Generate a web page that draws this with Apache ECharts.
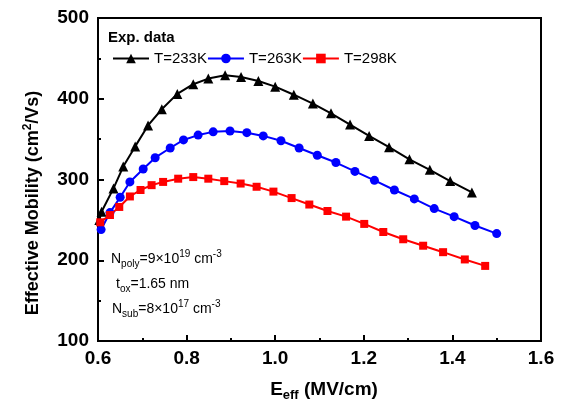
<!DOCTYPE html>
<html>
<head>
<meta charset="utf-8">
<script src="https://cdn.jsdelivr.net/npm/echarts@6/dist/echarts.min.js"></script>
<style>
  html, body { margin: 0; padding: 0; background: #fff; }
  #chart { width: 570px; height: 405px; }
</style>
</head>
<body>
<div id="chart"></div>
<script>
'use strict';

// 数据
const seriesNames = ['T=233K', 'T=263K', 'T=298K'];

const eff233 = [0.603, 0.608, 0.635, 0.657, 0.684, 0.713, 0.744, 0.779, 0.815, 0.849, 0.887, 0.923, 0.962,
                1.000, 1.042, 1.085, 1.126, 1.169, 1.212, 1.257, 1.303, 1.349, 1.395, 1.444];
const mob233 = [250, 260, 289, 316, 341, 367, 387, 406, 418, 425, 429, 427, 422,
                415, 405, 394, 382, 368, 354, 340, 325, 312, 298, 284];

const eff263 = [0.607, 0.627, 0.650, 0.672, 0.702, 0.729, 0.763, 0.793, 0.826, 0.860, 0.898, 0.936, 0.973,
                1.013, 1.054, 1.095, 1.137, 1.180, 1.224, 1.269, 1.314, 1.359, 1.404, 1.451, 1.500];
const mob263 = [238, 259, 278, 297, 313, 327, 339, 349, 355, 359, 360, 358, 354,
                348, 339, 330, 321, 310, 299, 287, 276, 264, 254, 243, 233];

const eff298 = [0.605, 0.627, 0.648, 0.672, 0.696, 0.721, 0.747, 0.781, 0.815, 0.849, 0.885, 0.922, 0.958,
                0.996, 1.037, 1.077, 1.118, 1.160, 1.201, 1.244, 1.289, 1.334, 1.379, 1.428, 1.474];
const mob298 = [247, 256, 266, 279, 287, 293, 297, 301, 303, 301, 298, 295, 291,
                285, 277, 269, 261, 254, 245, 235, 226, 218, 210, 201, 193];

const FONT = 'Arial, "Liberation Sans", sans-serif';

function pairs(xs, ys) {
    return xs.map((x, i) => [x, ys[i]]);
}

const chart = echarts.init(document.getElementById('chart'));

const option = {
    backgroundColor: '#fff',
    animation: false,
    grid: {
        left: 98, right: 29, top: 18, bottom: 64,
        show: true, borderColor: '#000', borderWidth: 2, backgroundColor: 'transparent'
    },
    legend: {
        left: 112, top: 51,
        padding: 0,
        itemGap: 0,
        itemWidth: 36,
        itemHeight: 12,
        textStyle: { fontFamily: FONT, fontSize: 15, color: '#000' },
        data: seriesNames
    },
    xAxis: {
        type: 'value',
        min: 0.6, max: 1.6, interval: 0.2,
        axisLine: { lineStyle: { color: '#000', width: 2 } },
        axisTick: { inside: true, length: 6, lineStyle: { color: '#000', width: 2 } },
        minorTick: { show: true, splitNumber: 2, length: 3, lineStyle: { color: '#000', width: 2 } },
        splitLine: { show: false },
        axisLabel: {
            margin: 8,
            fontFamily: FONT, fontSize: 19, fontWeight: 'bold', color: '#000',
            formatter: v => v.toFixed(1)
        }
    },
    yAxis: {
        type: 'value',
        min: 100, max: 500, interval: 100,
        axisLine: { lineStyle: { color: '#000', width: 2 } },
        axisTick: { inside: true, length: 6, lineStyle: { color: '#000', width: 2 } },
        minorTick: { show: true, splitNumber: 2, length: 3, lineStyle: { color: '#000', width: 2 } },
        splitLine: { show: false },
        axisLabel: {
            margin: 9,
            fontFamily: FONT, fontSize: 19, fontWeight: 'bold', color: '#000'
        }
    },
    series: [
        {
            name: seriesNames[0], type: 'line',
            data: pairs(eff233, mob233),
            symbol: 'triangle', symbolSize: 10,
            lineStyle: { color: '#000', width: 2 },
            itemStyle: { color: '#000' }
        },
        {
            name: seriesNames[1], type: 'line',
            data: pairs(eff263, mob263),
            symbol: 'circle', symbolSize: 9,
            lineStyle: { color: '#0000ff', width: 2 },
            itemStyle: { color: '#0000ff' }
        },
        {
            name: seriesNames[2], type: 'line',
            data: pairs(eff298, mob298),
            symbol: 'rect', symbolSize: 8,
            lineStyle: { color: '#ff0000', width: 2 },
            itemStyle: { color: '#ff0000' }
        }
    ],
    graphic: [
        {
            type: 'text', left: 108, top: 30,
            style: { text: 'Exp. data', font: 'bold 15px ' + FONT, fill: '#000' }
        },
        {
            type: 'text', x: 32, y: 203, rotation: Math.PI / 2,
            style: {
                text: '{n|Effective Mobility (cm}{p|2}{n|/Vs)}',
                align: 'center', verticalAlign: 'middle',
                rich: {
                    n: { fontFamily: FONT, fontSize: 18, fontWeight: 'bold', fill: '#000', lineHeight: 20, verticalAlign: 'bottom' },
                    p: { fontFamily: FONT, fontSize: 12, fontWeight: 'bold', fill: '#000', lineHeight: 20, verticalAlign: 'top' }
                }
            }
        },
        {
            type: 'text', x: 324, y: 391,
            style: {
                text: '{n|E}{s|eff}{n| (MV/cm)}',
                align: 'center', verticalAlign: 'middle',
                rich: {
                    n: { fontFamily: FONT, fontSize: 19, fontWeight: 'bold', fill: '#000', lineHeight: 22, verticalAlign: 'top' },
                    s: { fontFamily: FONT, fontSize: 13, fontWeight: 'bold', fill: '#000', lineHeight: 22, verticalAlign: 'bottom' }
                }
            }
        },
        {
            type: 'text', x: 111, y: 259,
            style: {
                text: '{n|N}{s|poly}{n|=9×10}{p|19}{n| cm}{p|-3}',
                verticalAlign: 'middle',
                rich: {
                    n: { fontFamily: FONT, fontSize: 14, fill: '#000', lineHeight: 20, verticalAlign: 'middle' },
                    s: { fontFamily: FONT, fontSize: 10, fill: '#000', lineHeight: 20, verticalAlign: 'bottom' },
                    p: { fontFamily: FONT, fontSize: 10, fill: '#000', lineHeight: 20, verticalAlign: 'top' }
                }
            }
        },
        {
            type: 'text', x: 116, y: 284,
            style: {
                text: '{n|t}{s|ox}{n|=1.65 nm}',
                verticalAlign: 'middle',
                rich: {
                    n: { fontFamily: FONT, fontSize: 14, fill: '#000', lineHeight: 20, verticalAlign: 'middle' },
                    s: { fontFamily: FONT, fontSize: 10, fill: '#000', lineHeight: 20, verticalAlign: 'bottom' }
                }
            }
        },
        {
            type: 'text', x: 112, y: 309,
            style: {
                text: '{n|N}{s|sub}{n|=8×10}{p|17}{n| cm}{p|-3}',
                verticalAlign: 'middle',
                rich: {
                    n: { fontFamily: FONT, fontSize: 14, fill: '#000', lineHeight: 20, verticalAlign: 'middle' },
                    s: { fontFamily: FONT, fontSize: 10, fill: '#000', lineHeight: 20, verticalAlign: 'bottom' },
                    p: { fontFamily: FONT, fontSize: 10, fill: '#000', lineHeight: 20, verticalAlign: 'top' }
                }
            }
        }
    ]
};

chart.setOption(option);
</script>
</body>
</html>
